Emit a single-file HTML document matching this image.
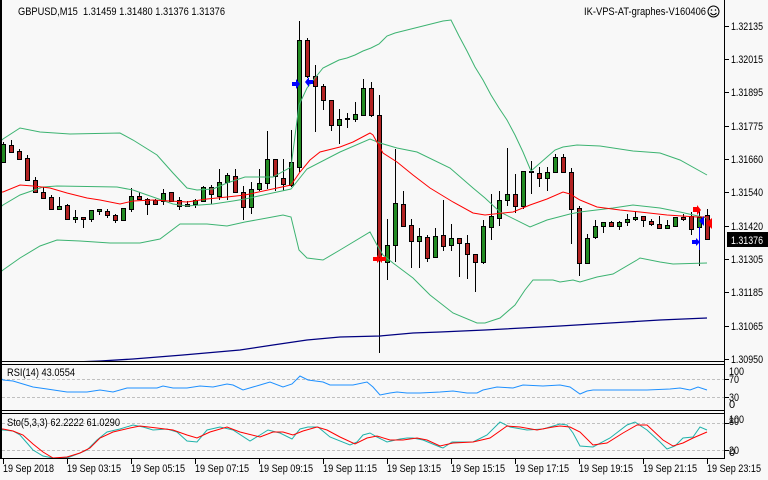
<!DOCTYPE html>
<html><head><meta charset="utf-8"><style>
html,body{margin:0;padding:0;background:#f8f8f8;}
svg{display:block;}
text{font-family:"Liberation Sans",sans-serif;font-size:11px;fill:#000;}
</style></head><body>
<svg width="768" height="480" viewBox="0 0 768 480" xmlns="http://www.w3.org/2000/svg">
<rect x="0" y="0" width="768" height="480" fill="#f8f8f8"/>
<defs><clipPath id="mc"><rect x="2" y="0" width="722" height="361"/></clipPath></defs>

<!-- candles -->
<g clip-path="url(#mc)" stroke="#000" stroke-width="1" shape-rendering="crispEdges">
<g>
<line x1="3.5" y1="142" x2="3.5" y2="163"/><line x1="11.5" y1="140" x2="11.5" y2="153"/><line x1="19.5" y1="149" x2="19.5" y2="160"/><line x1="27.5" y1="155" x2="27.5" y2="180"/><line x1="35.5" y1="177" x2="35.5" y2="193"/><line x1="43.5" y1="187" x2="43.5" y2="199"/><line x1="51.5" y1="195" x2="51.5" y2="209"/><line x1="59.5" y1="197" x2="59.5" y2="209"/><line x1="67.5" y1="204" x2="67.5" y2="220"/><line x1="75.5" y1="210" x2="75.5" y2="223"/><line x1="83.5" y1="217" x2="83.5" y2="228"/><line x1="91.5" y1="210" x2="91.5" y2="222"/><line x1="99.5" y1="209" x2="99.5" y2="215"/><line x1="107.5" y1="209" x2="107.5" y2="218"/><line x1="115.5" y1="214" x2="115.5" y2="223"/><line x1="123.5" y1="208" x2="123.5" y2="220"/><line x1="131.5" y1="188" x2="131.5" y2="212"/><line x1="139.5" y1="192" x2="139.5" y2="200"/><line x1="147.5" y1="198" x2="147.5" y2="215"/><line x1="155.5" y1="199" x2="155.5" y2="205"/><line x1="163.5" y1="189" x2="163.5" y2="205"/><line x1="171.5" y1="192" x2="171.5" y2="201"/><line x1="179.5" y1="197" x2="179.5" y2="210"/><line x1="187.5" y1="201" x2="187.5" y2="207"/><line x1="195.5" y1="199" x2="195.5" y2="208"/><line x1="203.5" y1="186" x2="203.5" y2="202"/><line x1="211.5" y1="185" x2="211.5" y2="204"/><line x1="219.5" y1="169" x2="219.5" y2="200"/><line x1="227.5" y1="173" x2="227.5" y2="200"/><line x1="235.5" y1="169" x2="235.5" y2="193"/><line x1="243.5" y1="186" x2="243.5" y2="220"/><line x1="251.5" y1="182" x2="251.5" y2="214"/><line x1="259.5" y1="169" x2="259.5" y2="191"/><line x1="267.5" y1="131" x2="267.5" y2="189"/><line x1="275.5" y1="159" x2="275.5" y2="191"/><line x1="283.5" y1="159" x2="283.5" y2="191"/><line x1="291.5" y1="130" x2="291.5" y2="187"/><line x1="299.5" y1="21" x2="299.5" y2="172"/><line x1="307.5" y1="38" x2="307.5" y2="78"/><line x1="315.5" y1="65" x2="315.5" y2="132"/><line x1="323.5" y1="84" x2="323.5" y2="110"/><line x1="331.5" y1="100" x2="331.5" y2="131"/><line x1="339.5" y1="109" x2="339.5" y2="144"/><line x1="347.5" y1="113" x2="347.5" y2="128"/><line x1="355.5" y1="102" x2="355.5" y2="122"/><line x1="363.5" y1="79" x2="363.5" y2="116"/><line x1="371.5" y1="82" x2="371.5" y2="117"/><line x1="379.5" y1="95" x2="379.5" y2="353"/><line x1="387.5" y1="219" x2="387.5" y2="280"/><line x1="395.5" y1="149" x2="395.5" y2="262"/><line x1="403.5" y1="191" x2="403.5" y2="227"/><line x1="411.5" y1="219" x2="411.5" y2="268"/><line x1="419.5" y1="228" x2="419.5" y2="268"/><line x1="427.5" y1="235" x2="427.5" y2="262"/><line x1="435.5" y1="228" x2="435.5" y2="258"/><line x1="443.5" y1="200" x2="443.5" y2="251"/><line x1="451.5" y1="224" x2="451.5" y2="251"/><line x1="459.5" y1="238" x2="459.5" y2="277"/><line x1="467.5" y1="235" x2="467.5" y2="279"/><line x1="475.5" y1="254" x2="475.5" y2="292"/><line x1="483.5" y1="220" x2="483.5" y2="264"/><line x1="491.5" y1="194" x2="491.5" y2="240"/><line x1="499.5" y1="191" x2="499.5" y2="226"/><line x1="507.5" y1="148" x2="507.5" y2="206"/><line x1="515.5" y1="174" x2="515.5" y2="213"/><line x1="523.5" y1="171" x2="523.5" y2="209"/><line x1="531.5" y1="161" x2="531.5" y2="194"/><line x1="539.5" y1="167" x2="539.5" y2="187"/><line x1="547.5" y1="167" x2="547.5" y2="191"/><line x1="555.5" y1="154" x2="555.5" y2="173"/><line x1="563.5" y1="154" x2="563.5" y2="173"/><line x1="571.5" y1="168" x2="571.5" y2="244"/><line x1="579.5" y1="206" x2="579.5" y2="276"/><line x1="587.5" y1="234" x2="587.5" y2="263"/><line x1="595.5" y1="220" x2="595.5" y2="239"/><line x1="603.5" y1="222" x2="603.5" y2="233"/><line x1="611.5" y1="221" x2="611.5" y2="227"/><line x1="619.5" y1="221" x2="619.5" y2="230"/><line x1="627.5" y1="214" x2="627.5" y2="226"/><line x1="635.5" y1="211" x2="635.5" y2="221"/><line x1="643.5" y1="216" x2="643.5" y2="227"/><line x1="651.5" y1="219" x2="651.5" y2="226"/><line x1="659.5" y1="216" x2="659.5" y2="228"/><line x1="667.5" y1="220" x2="667.5" y2="229"/><line x1="675.5" y1="217" x2="675.5" y2="226"/><line x1="683.5" y1="214" x2="683.5" y2="221"/><line x1="691.5" y1="212" x2="691.5" y2="235"/><line x1="699.5" y1="210" x2="699.5" y2="266"/><line x1="707.5" y1="209" x2="707.5" y2="239"/>
</g>
<g fill="#228b22">
<rect x="1.5" y="144.5" width="4" height="18"/><rect x="57.5" y="206.5" width="4" height="3"/><rect x="73.5" y="217.5" width="4" height="2"/><rect x="89.5" y="210.5" width="4" height="9"/><rect x="97.5" y="209.5" width="4" height="2"/><rect x="121.5" y="208.5" width="4" height="12"/><rect x="129.5" y="196.5" width="4" height="13"/><rect x="161.5" y="193.5" width="4" height="8"/><rect x="193.5" y="200.5" width="4" height="4"/><rect x="201.5" y="187.5" width="4" height="14"/><rect x="217.5" y="182.5" width="4" height="14"/><rect x="225.5" y="175.5" width="4" height="7"/><rect x="249.5" y="189.5" width="4" height="18"/><rect x="257.5" y="183.5" width="4" height="6"/><rect x="265.5" y="159.5" width="4" height="24"/><rect x="289.5" y="162.5" width="4" height="23"/><rect x="297.5" y="40.5" width="4" height="127"/><rect x="337.5" y="119.5" width="4" height="6"/><rect x="345.5" y="118.5" width="4" height="1"/><rect x="353.5" y="114.5" width="4" height="5"/><rect x="361.5" y="88.5" width="4" height="27"/><rect x="385.5" y="245.5" width="4" height="17"/><rect x="393.5" y="203.5" width="4" height="42"/><rect x="417.5" y="236.5" width="4" height="5"/><rect x="433.5" y="236.5" width="4" height="21"/><rect x="449.5" y="238.5" width="4" height="7"/><rect x="481.5" y="226.5" width="4" height="36"/><rect x="489.5" y="216.5" width="4" height="11"/><rect x="497.5" y="200.5" width="4" height="18"/><rect x="505.5" y="194.5" width="4" height="6"/><rect x="521.5" y="171.5" width="4" height="35"/><rect x="529.5" y="171.5" width="4" height="1"/><rect x="545.5" y="172.5" width="4" height="6"/><rect x="553.5" y="157.5" width="4" height="15"/><rect x="585.5" y="238.5" width="4" height="25"/><rect x="593.5" y="226.5" width="4" height="11"/><rect x="601.5" y="222.5" width="4" height="4"/><rect x="617.5" y="222.5" width="4" height="4"/><rect x="625.5" y="219.5" width="4" height="3"/><rect x="633.5" y="217.5" width="4" height="2"/><rect x="665.5" y="225.5" width="4" height="3"/><rect x="673.5" y="217.5" width="4" height="9"/><rect x="697.5" y="217.5" width="4" height="10"/>
</g>
<g fill="#b22222">
<rect x="9.5" y="145.5" width="4" height="7"/><rect x="17.5" y="151.5" width="4" height="8"/><rect x="25.5" y="158.5" width="4" height="22"/><rect x="33.5" y="180.5" width="4" height="12"/><rect x="41.5" y="192.5" width="4" height="6"/><rect x="49.5" y="197.5" width="4" height="12"/><rect x="65.5" y="205.5" width="4" height="14"/><rect x="81.5" y="217.5" width="4" height="2"/><rect x="105.5" y="211.5" width="4" height="4"/><rect x="113.5" y="215.5" width="4" height="5"/><rect x="137.5" y="196.5" width="4" height="3"/><rect x="145.5" y="199.5" width="4" height="5"/><rect x="153.5" y="200.5" width="4" height="4"/><rect x="169.5" y="192.5" width="4" height="9"/><rect x="177.5" y="200.5" width="4" height="6"/><rect x="185.5" y="204.5" width="4" height="2"/><rect x="209.5" y="187.5" width="4" height="7"/><rect x="233.5" y="176.5" width="4" height="16"/><rect x="241.5" y="192.5" width="4" height="15"/><rect x="273.5" y="159.5" width="4" height="17"/><rect x="281.5" y="178.5" width="4" height="6"/><rect x="305.5" y="40.5" width="4" height="36"/><rect x="313.5" y="76.5" width="4" height="10"/><rect x="321.5" y="86.5" width="4" height="14"/><rect x="329.5" y="100.5" width="4" height="25"/><rect x="369.5" y="88.5" width="4" height="27"/><rect x="377.5" y="115.5" width="4" height="142"/><rect x="401.5" y="204.5" width="4" height="22"/><rect x="409.5" y="225.5" width="4" height="16"/><rect x="425.5" y="237.5" width="4" height="21"/><rect x="441.5" y="235.5" width="4" height="11"/><rect x="457.5" y="238.5" width="4" height="5"/><rect x="465.5" y="243.5" width="4" height="11"/><rect x="473.5" y="254.5" width="4" height="8"/><rect x="513.5" y="194.5" width="4" height="12"/><rect x="537.5" y="173.5" width="4" height="5"/><rect x="561.5" y="157.5" width="4" height="15"/><rect x="569.5" y="172.5" width="4" height="37"/><rect x="577.5" y="208.5" width="4" height="55"/><rect x="609.5" y="222.5" width="4" height="4"/><rect x="641.5" y="216.5" width="4" height="4"/><rect x="649.5" y="221.5" width="4" height="3"/><rect x="657.5" y="224.5" width="4" height="4"/><rect x="681.5" y="217.5" width="4" height="2"/><rect x="689.5" y="216.5" width="4" height="13"/><rect x="705.5" y="215.5" width="4" height="24"/>
</g>
</g>

<!-- indicator lines -->
<g clip-path="url(#mc)" fill="none" stroke-width="1">
<polyline stroke="#3cb371" points="2,140 3,139 20,128 40,132 70,134 120,133 133,140 157,155 173,173 187,188 197,190 213,189 227,183 245,177 273,177 291,167 299,105 307,88 315,78 323,68 331,64 339,60 347,58 355,55 363,51 371,48 379,44 387,36 395,33 403,31 411,29 419,27 427,25 435,23 443,21 451,20 459,36 467,51 475,67 483,80 491,95 499,108 507,120 515,135 523,152 531,171 539,164 547,157 555,150 563,147 577,145 600,146 633,151 660,153 680,160 707,175"/>
<polyline stroke="#3cb371" points="2,206 3,205 20,195 43,187 57,186 117,187 133,190 153,197 173,204 187,206 213,204 233,201 245,199 291,189 299,179 307,169 340,152 370,139 380,143 397,148 417,152 450,168 473,188 485,198 500,212 530,227 547,220 570,214 580,212 613,208 633,205 660,208 680,212 707,218"/>
<polyline stroke="#3cb371" points="2,271 3,270 20,258 40,246 57,240 80,241 110,243 140,243 160,239 180,224 207,224 227,226 245,222 267,218 283,215 291,217 299,250 307,258 323,260 340,250 370,232 377,245 383,255 393,263 413,278 430,295 453,313 477,323 485,323 500,318 515,305 525,290 533,280 553,280 560,282 573,280 580,282 597,277 613,274 637,260 640,258 660,262 673,264 707,263"/>
<polyline stroke="#ff0000" points="2,192 3,192 20,185 33,186 50,188 67,193 87,198 100,200 120,204 133,201 153,200 187,202 207,199 227,197 245,195 291,185 300,172 310,160 320,152 340,147 353,142 370,133 373,135 383,153 397,162 413,175 430,188 453,202 473,213 485,215 513,212 530,205 547,199 563,192 570,194 580,200 597,207 620,210 640,212 667,215 697,217 707,217"/>
<polyline stroke="#000080" stroke-width="1.3" points="75,362 100,361 133,359 183,355 240,350 273,345 307,340 340,337 380,336 413,333 440,332 485,330 560,326 593,324 627,322 660,320 707,318"/>
</g>

<!-- arrows -->
<polygon fill="#0000ff" points="292,82 296,82 296,79 300,84 296,89 296,86 292,86"/>
<polygon fill="#0000ff" points="313,80 309,80 309,77 305,82 309,87 309,84 313,84"/>
<polygon fill="#ff0000" points="373,257 377,257 377,255 381,259 377,263 377,261 373,261"/>
<polygon fill="#ff0000" points="386,257 382,257 382,255 378,259 382,263 382,261 386,261"/>
<polygon fill="#ff0000" points="693,207 697,207 697,205 701,210 697,215 697,212 693,212"/>
<polygon fill="#0000ff" points="704,216 704,226 699,221"/>
<polygon fill="#ff0000" points="712,218 712,229 706,223"/>
<polygon fill="#0000ff" points="692,240 696,240 696,238 700,242 696,246 696,244 692,244"/>
<line x1="699.5" y1="227" x2="699.5" y2="250" stroke="#0000ff"/>

<!-- dashed levels -->
<g stroke="#c0c0c0" stroke-dasharray="3,2" shape-rendering="crispEdges">
<line x1="2" y1="379.5" x2="724" y2="379.5"/>
<line x1="2" y1="397.5" x2="724" y2="397.5"/>
<line x1="2" y1="423.5" x2="724" y2="423.5"/>
<line x1="2" y1="450.5" x2="724" y2="450.5"/>
</g>

<!-- RSI -->
<polyline fill="none" stroke="#1e90ff" points="2,379 3,380 13,381 23,384 33,387 47,389 67,392 87,392 100,390 113,392 127,388 140,388 157,388 163,386 173,388 187,388 200,386 213,387 227,384 233,385 243,390 253,387 260,385 270,382 283,387 292,384 300,376 308,380 323,382 330,385 353,385 367,382 373,387 380,395 390,393 397,392 407,393 420,393 440,392 453,391 467,393 477,393 483,390 497,387 513,388 523,385 543,386 560,385 570,387 580,394 587,391 593,390 627,390 647,390 670,389 680,388 690,390 698,387 707,390"/>

<!-- Stochastic -->
<polyline fill="none" stroke="#20b2aa" points="2,430 3,430 13,431 20,435 27,443 33,450 43,456 53,458 67,458 80,453 87,450 97,440 107,432 120,429 133,425 143,427 153,430 167,429 177,432 187,441 197,442 207,430 220,427 233,430 250,441 260,435 268,430 280,433 292,439 300,429 308,427 318,427 330,437 350,445 357,442 363,435 370,433 377,437 387,442 400,439 407,438 413,438 423,440 440,447 443,448 452,442 473,442 487,435 500,422 510,427 527,430 543,429 560,424 567,425 573,433 580,446 593,447 610,438 627,425 635,422 647,430 660,442 667,449 675,446 683,438 693,437 700,427 707,430"/>
<polyline fill="none" stroke="#ff0000" points="2,429 3,429 13,431 23,435 33,444 43,452 53,458 67,457 80,453 90,448 100,438 113,432 130,428 140,426 157,428 173,430 187,435 197,438 210,432 227,427 240,432 260,437 273,432 283,432 293,435 303,431 317,427 327,430 340,437 355,444 367,438 377,436 390,440 403,440 417,438 427,440 440,446 453,443 473,442 490,438 507,426 520,427 537,430 553,427 560,426 570,427 580,432 593,445 607,443 623,433 637,425 647,425 663,440 673,446 683,443 693,438 707,432"/>

<!-- frames -->
<g stroke="#000" stroke-width="1" shape-rendering="crispEdges" fill="none">
<rect x="0" y="0" width="2" height="459" fill="#000" stroke="none"/>
<line x1="724.5" y1="0" x2="724.5" y2="459"/>
<line x1="0" y1="361.5" x2="725" y2="361.5"/>
<line x1="0" y1="364.5" x2="725" y2="364.5"/>
<line x1="0" y1="410.5" x2="725" y2="410.5"/>
<line x1="0" y1="413.5" x2="725" y2="413.5"/>
<line x1="0" y1="458.5" x2="725" y2="458.5"/>
<!-- right ticks -->
<line x1="725" y1="26.5" x2="729" y2="26.5"/><line x1="725" y1="59.5" x2="729" y2="59.5"/><line x1="725" y1="92.5" x2="729" y2="92.5"/><line x1="725" y1="126.5" x2="729" y2="126.5"/><line x1="725" y1="159.5" x2="729" y2="159.5"/><line x1="725" y1="192.5" x2="729" y2="192.5"/><line x1="725" y1="226.5" x2="729" y2="226.5"/><line x1="725" y1="259.5" x2="729" y2="259.5"/><line x1="725" y1="292.5" x2="729" y2="292.5"/><line x1="725" y1="326.5" x2="729" y2="326.5"/><line x1="725" y1="359.5" x2="729" y2="359.5"/>
<line x1="725" y1="379.5" x2="729" y2="379.5"/><line x1="725" y1="397.5" x2="729" y2="397.5"/><line x1="725" y1="423.5" x2="729" y2="423.5"/><line x1="725" y1="450.5" x2="729" y2="450.5"/>
<!-- bottom ticks -->
<line x1="3.5" y1="459" x2="3.5" y2="464"/><line x1="67.5" y1="459" x2="67.5" y2="464"/><line x1="131.5" y1="459" x2="131.5" y2="464"/><line x1="195.5" y1="459" x2="195.5" y2="464"/><line x1="259.5" y1="459" x2="259.5" y2="464"/><line x1="323.5" y1="459" x2="323.5" y2="464"/><line x1="387.5" y1="459" x2="387.5" y2="464"/><line x1="451.5" y1="459" x2="451.5" y2="464"/><line x1="515.5" y1="459" x2="515.5" y2="464"/><line x1="579.5" y1="459" x2="579.5" y2="464"/><line x1="643.5" y1="459" x2="643.5" y2="464"/><line x1="707.5" y1="459" x2="707.5" y2="464"/>
</g>

<!-- header texts -->
<text x="18" y="15" textLength="207" lengthAdjust="spacingAndGlyphs" style="white-space:pre">GBPUSD,M15  1.31459 1.31480 1.31376 1.31376</text>
<text x="584" y="15" textLength="122" lengthAdjust="spacingAndGlyphs">IK-VPS-AT-graphes-V160406</text>
<g fill="none" stroke="#000" stroke-width="1">
<circle cx="713.5" cy="11.5" r="5.5"/>
<path d="M710.5 13 Q713.5 16.5 716.5 13"/>
</g>
<circle cx="711.5" cy="10" r="0.8" fill="#000"/><circle cx="715.5" cy="10" r="0.8" fill="#000"/>

<text x="7" y="376" textLength="68" lengthAdjust="spacingAndGlyphs">RSI(14) 43.0554</text>
<text x="7" y="426" textLength="113" lengthAdjust="spacingAndGlyphs">Sto(5,3,3) 62.2222 61.0290</text>

<!-- price labels -->
<g>
<text x="731" y="30" textLength="32" lengthAdjust="spacingAndGlyphs">1.32135</text>
<text x="731" y="63" textLength="32" lengthAdjust="spacingAndGlyphs">1.32015</text>
<text x="731" y="96" textLength="32" lengthAdjust="spacingAndGlyphs">1.31895</text>
<text x="731" y="130" textLength="32" lengthAdjust="spacingAndGlyphs">1.31775</text>
<text x="731" y="163" textLength="32" lengthAdjust="spacingAndGlyphs">1.31660</text>
<text x="731" y="196" textLength="32" lengthAdjust="spacingAndGlyphs">1.31540</text>
<text x="731" y="230" textLength="32" lengthAdjust="spacingAndGlyphs">1.31420</text>
<text x="731" y="263" textLength="32" lengthAdjust="spacingAndGlyphs">1.31305</text>
<text x="731" y="296" textLength="32" lengthAdjust="spacingAndGlyphs">1.31185</text>
<text x="731" y="330" textLength="32" lengthAdjust="spacingAndGlyphs">1.31065</text>
<text x="731" y="363" textLength="32" lengthAdjust="spacingAndGlyphs">1.30950</text>
</g>
<rect x="727" y="232" width="41" height="15" fill="#000"/>
<text x="731" y="244" textLength="32" lengthAdjust="spacingAndGlyphs" style="fill:#fff">1.31376</text>

<!-- indicator scale labels -->
<text x="729" y="375" textLength="15" lengthAdjust="spacingAndGlyphs">100</text>
<text x="729" y="383" textLength="10" lengthAdjust="spacingAndGlyphs">70</text>
<text x="729" y="401" textLength="10" lengthAdjust="spacingAndGlyphs">30</text>
<text x="729" y="408">0</text>
<text x="729" y="423" textLength="15" lengthAdjust="spacingAndGlyphs">100</text>
<text x="729" y="425" textLength="10" lengthAdjust="spacingAndGlyphs">80</text>
<text x="729" y="454" textLength="10" lengthAdjust="spacingAndGlyphs">20</text>
<text x="729" y="456">0</text>

<!-- time labels -->
<g>
<text x="3" y="472" textLength="51" lengthAdjust="spacingAndGlyphs">19 Sep 2018</text>
<text x="67" y="472" textLength="54" lengthAdjust="spacingAndGlyphs">19 Sep 03:15</text>
<text x="131" y="472" textLength="54" lengthAdjust="spacingAndGlyphs">19 Sep 05:15</text>
<text x="195" y="472" textLength="54" lengthAdjust="spacingAndGlyphs">19 Sep 07:15</text>
<text x="259" y="472" textLength="54" lengthAdjust="spacingAndGlyphs">19 Sep 09:15</text>
<text x="323" y="472" textLength="54" lengthAdjust="spacingAndGlyphs">19 Sep 11:15</text>
<text x="387" y="472" textLength="54" lengthAdjust="spacingAndGlyphs">19 Sep 13:15</text>
<text x="451" y="472" textLength="54" lengthAdjust="spacingAndGlyphs">19 Sep 15:15</text>
<text x="515" y="472" textLength="54" lengthAdjust="spacingAndGlyphs">19 Sep 17:15</text>
<text x="579" y="472" textLength="54" lengthAdjust="spacingAndGlyphs">19 Sep 19:15</text>
<text x="643" y="472" textLength="54" lengthAdjust="spacingAndGlyphs">19 Sep 21:15</text>
<text x="707" y="472" textLength="54" lengthAdjust="spacingAndGlyphs">19 Sep 23:15</text>
</g>
</svg>
</body></html>
